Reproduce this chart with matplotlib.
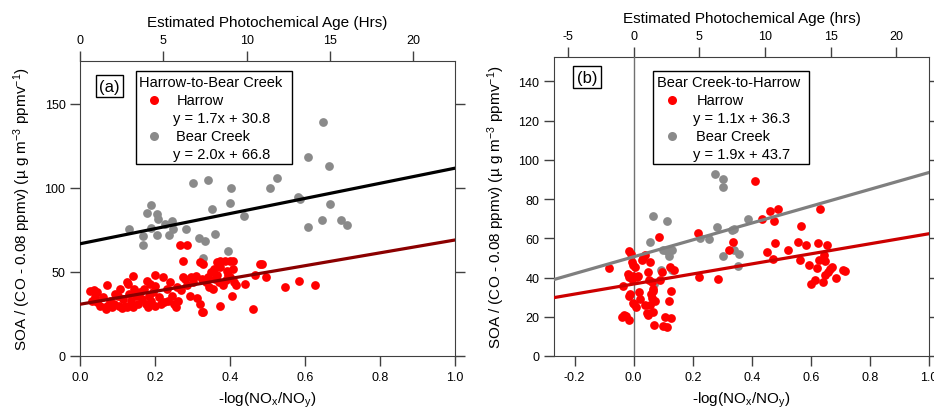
import numpy as np
import matplotlib.pyplot as plt
from matplotlib.patches import Rectangle

plt.rcParams['font.family'] = ['Liberation Sans', 'DejaVu Sans']
plt.rcParams['mathtext.default'] = 'regular'
plt.rcParams['axes.unicode_minus'] = False

HRS_PER_UNIT = 22.5

# panel (a) Harrow-to-Bear Creek
a_harrow_x = [0.027, 0.036, 0.044, 0.031, 0.044, 0.053, 0.071, 0.069, 0.071, 0.06, 0.08, 0.09, 0.1, 0.093, 0.085, 0.04,
              0.107, 0.115, 0.12, 0.124, 0.129, 0.13, 0.135, 0.142, 0.14, 0.15, 0.155, 0.16, 0.165, 0.17, 0.175, 0.178,
              0.18, 0.185, 0.187, 0.19, 0.195, 0.2, 0.2, 0.2, 0.105, 0.112, 0.125, 0.145,
              0.21, 0.215, 0.222, 0.225, 0.231, 0.235, 0.24, 0.245, 0.25, 0.258, 0.262, 0.267, 0.284, 0.274, 0.275,
              0.28, 0.292, 0.295, 0.3, 0.27, 0.285, 0.255,
              0.311, 0.32, 0.324, 0.329, 0.32, 0.329, 0.31, 0.325, 0.335, 0.34, 0.345, 0.35, 0.356, 0.364, 0.373,
              0.387, 0.4, 0.409, 0.373, 0.391, 0.409, 0.36, 0.37, 0.38, 0.39, 0.4, 0.41, 0.415, 0.404, 0.373, 0.355,
              0.365, 0.395,
              0.44, 0.467, 0.48, 0.486, 0.496, 0.46, 0.547, 0.585, 0.627]
a_harrow_y = [38.8, 39.5, 37.8, 33, 32, 30, 30, 27.9, 42.2, 35, 33, 31, 36, 37, 29, 35,
              39.8, 34, 30, 43.8, 42.8, 37, 33, 47.8, 29, 36, 31, 38, 34, 40, 31, 44.8,
              29, 36, 42.8, 33, 38, 41.8, 48.2, 30, 30, 28.5, 29, 40,
              35, 31, 46.8, 32, 39.8, 33, 43.8, 36, 31, 40.8, 33, 66.3, 66.3, 56.4, 47,
              46, 35.9, 47, 44, 39, 42, 29,
              34.5, 30.9, 26.3, 26.3, 55.8, 54.8, 47.5, 46, 44, 47, 41, 50, 51.8, 55.8, 56.8,
              56.8, 56.4, 56.4, 52.8, 50.8, 51.8, 46, 44, 42, 45, 47, 44, 42, 35.9, 29.9, 40,
              48, 48,
              43, 48.2, 54.8, 54.8, 47, 27.9, 40.8, 44.8, 42.2]
a_bear_x = [0.188, 0.178, 0.204, 0.209, 0.131, 0.188, 0.169, 0.204, 0.167, 0.227, 0.244, 0.247, 0.238, 0.282,
            0.318, 0.333, 0.361, 0.394, 0.327, 0.352, 0.4, 0.438, 0.587, 0.608, 0.644, 0.667, 0.695, 0.711,
            0.649, 0.609, 0.663, 0.524, 0.507, 0.34, 0.301, 0.402, 0.582]
a_bear_y = [89.6, 85.3, 84.3, 81.3, 75.3, 76.1, 71.7, 72.1, 66.3, 78.7, 80.1, 75.3, 72.1, 75.3,
            70.1, 68.7, 72.7, 62.2, 58.4, 87.6, 91.0, 83.3, 93.6, 76.5, 80.9, 90.2, 80.9, 77.7,
            139.3, 118.5, 112.9, 106.2, 100, 105, 103.2, 100.2, 94.4]

# panel (b) Bear Creek-to-Harrow
b_harrow_x = [-0.082, -0.037, -0.033, -0.026, -0.017, -0.041, -0.015, -0.01, -0.018, -0.015, -0.007, -0.001,
              -0.012, -0.015, -0.006, -0.001, 0.005, -0.003, 0.007, 0.002, 0.01, 0.016, 0.021, 0.019, 0.027,
              0.033, 0.038, 0.055, 0.047, 0.053, 0.061, 0.039, 0.044, 0.05, 0.055, 0.058, 0.064, 0.066, 0.067,
              0.073, 0.069, 0.061, 0.086, 0.089, 0.095, 0.106, 0.112, 0.098, 0.123, 0.137, 0.125, 0.12, 0.128,
              0.219, 0.222, 0.287, 0.324, 0.336, 0.412, 0.434, 0.451, 0.462, 0.49, 0.476, 0.477, 0.471, 0.524,
              0.558, 0.566, 0.563, 0.583, 0.593, 0.6, 0.615, 0.623, 0.632, 0.62, 0.629, 0.643, 0.654, 0.641,
              0.647, 0.649, 0.657, 0.666, 0.671, 0.686, 0.708, 0.716]
b_harrow_y = [44.8, 35.6, 21, 20.3, 18.4, 19.8, 53.3, 52.1, 41.9, 40.2, 39.4, 41, 31.7, 30.8, 47.9, 46.2,
              45.3, 27, 24.9, 26.6, 40.2, 40.7, 29.1, 32.5, 48.7, 49.9, 51.3, 47.9, 42.7, 38.5, 37.6, 25.9,
              21.7, 20.8, 26.2, 31.5, 33.2, 34, 22.5, 28.1, 16, 29.5, 60.6, 38.5, 42.8, 19.8, 14.8, 15.3,
              45.3, 43.6, 33.2, 28.1, 19.5,
              62.8, 40.2, 39.3, 53.8, 58.3, 89.2, 69.9, 53.2, 74.2, 75, 68.6, 57.7, 49.5, 54.3,
              58.1, 66.3, 49.2, 56.4, 46.5, 36.8, 39, 57.8, 75.1, 44.8, 48.7, 51.6, 56.7, 37.6,
              48.2, 41.4, 42.8, 44.5, 45.3, 39.7, 44.1, 43.3]
b_bear_x = [0.276, 0.304, 0.302, 0.064, 0.114, 0.055, 0.098, 0.112, 0.129, 0.121, 0.092, 0.129, 0.07,
            0.225, 0.256, 0.281, 0.332, 0.34, 0.34, 0.355, 0.302, 0.352, 0.388]
b_bear_y = [92.7, 90.5, 86.3, 71.4, 68.7, 58.1, 53.8, 53.3, 54.3, 50.9, 43.6, 43.6, 36.8,
            60.2, 59.7, 65.7, 64.0, 64.8, 53.8, 52.0, 51.2, 46.1, 69.9]

# fit lines as drawn (slope per hour, intercept)
a_fit_harrow = (1.7, 30.8)
a_fit_bear = (2.0, 66.8)
b_fit_harrow = (1.14, 36.7)
b_fit_bear = (1.91, 50.6)

RED = '#ff0000'
GRAY = '#8a8a8a'
AXC = '#404040'

fig = plt.figure(figsize=(9.34, 4.10), dpi=100)
ax1 = fig.add_axes([0.0857, 0.1293, 0.4015, 0.7195])
ax2 = fig.add_axes([0.5931, 0.1293, 0.4015, 0.7293])


def style(ax, xlim, ylim, yticks, hticks, toplabel):
    ax.set_xlim(*xlim)
    ax.set_ylim(*ylim)
    ax.set_yticks(yticks)
    ax.set_xticks([-0.2, 0.0, 0.2, 0.4, 0.6, 0.8, 1.0] if xlim[0] < -0.2 else [0.0, 0.2, 0.4, 0.6, 0.8, 1.0])
    ax.set_xticklabels([f'{v:.1f}' for v in ax.get_xticks()])
    ax.tick_params(direction='out', length=7, width=1, color=AXC, labelsize=9, right=True)
    for s in ax.spines.values():
        s.set_color(AXC)
    ax.spines['top'].set_visible(False)
    ax.set_xlabel('-log(NO$_x$/NO$_y$)', fontsize=11, labelpad=5)
    ax.set_ylabel('SOA / (CO - 0.08 ppmv) (µ g m$^{-3}$ ppmv$^{-1}$)', fontsize=11, labelpad=8)
    sec = ax.secondary_xaxis('top', functions=(lambda x: x * HRS_PER_UNIT, lambda h: h / HRS_PER_UNIT))
    sec.set_xticks(hticks)
    sec.tick_params(direction='out', length=7, width=1, color=AXC, labelsize=9)
    sec.spines['top'].set_color(AXC)
    sec.set_xlabel(toplabel, fontsize=11, labelpad=6)


def legend(ax, box, title, tx, mx, ys, labels):
    ax.add_patch(Rectangle((box[0], box[1]), box[2] - box[0], box[3] - box[1], transform=ax.transAxes,
                           facecolor='white', edgecolor='black', lw=1, zorder=5))
    ax.text(box[0] + 0.01, ys[0], title, transform=ax.transAxes, fontsize=10.5, va='center', ha='left', zorder=6)
    for (lab, eq, col), y1, y2 in zip(labels, ys[1::2], ys[2::2]):
        ax.plot([mx], [y1], 'o', color=col, ms=6.5, mec='none', transform=ax.transAxes, zorder=6)
        ax.text(tx + 0.01, y1, lab, transform=ax.transAxes, fontsize=10.5, va='center', ha='left', zorder=6)
        ax.text(tx, y2, eq, transform=ax.transAxes, fontsize=10.5, va='center', ha='left', zorder=6)


# panel (a)
style(ax1, (0, 1.0), (0, 175.6), [0, 50, 100, 150], [0, 5, 10, 15, 20], 'Estimated Photochemical Age (Hrs)')
ax1.plot(a_bear_x, a_bear_y, 'o', color=GRAY, ms=6.3, mec='none', zorder=2)
ax1.plot(a_harrow_x, a_harrow_y, 'o', color=RED, ms=6.3, mec='none', zorder=2)
xx = np.array([0.0, 1.0])
ax1.plot(xx, a_fit_bear[1] + a_fit_bear[0] * HRS_PER_UNIT * xx, color='black', lw=2.3, zorder=3)
ax1.plot(xx, a_fit_harrow[1] + a_fit_harrow[0] * HRS_PER_UNIT * xx, color='#8b0000', lw=2.3, zorder=3)
ax1.text(0.079, 0.915, '(a)', transform=ax1.transAxes, fontsize=12, ha='center', va='center',
         bbox=dict(boxstyle='square,pad=0.2', fc='white', ec='black', lw=1))
legend(ax1, (0.148, 0.651, 0.565, 0.965), 'Harrow-to-Bear Creek', 0.247, 0.197,
       [0.929, 0.868, 0.807, 0.747, 0.685],
       [('Harrow', 'y = 1.7x + 30.8', RED), ('Bear Creek', 'y = 2.0x + 66.8', GRAY)])

# panel (b)
style(ax2, (-0.27, 1.0), (0, 152.5), list(range(0, 141, 20)), [-5, 0, 5, 10, 15, 20],
      'Estimated Photochemical Age (hrs)')
ax2.axvline(0, color='#707070', lw=1, zorder=1)
ax2.plot(b_bear_x, b_bear_y, 'o', color=GRAY, ms=6.3, mec='none', zorder=2)
ax2.plot(b_harrow_x, b_harrow_y, 'o', color=RED, ms=6.3, mec='none', zorder=2)
xx = np.array([-0.27, 1.0])
ax2.plot(xx, b_fit_bear[1] + b_fit_bear[0] * HRS_PER_UNIT * xx, color='#7f7f7f', lw=2.3, zorder=3)
ax2.plot(xx, b_fit_harrow[1] + b_fit_harrow[0] * HRS_PER_UNIT * xx, color='#cc0000', lw=2.3, zorder=3)
ax2.text(0.088, 0.932, '(b)', transform=ax2.transAxes, fontsize=12, ha='center', va='center',
         bbox=dict(boxstyle='square,pad=0.2', fc='white', ec='black', lw=1))
legend(ax2, (0.265, 0.642, 0.681, 0.952), 'Bear Creek-to-Harrow', 0.37, 0.314,
       [0.916, 0.856, 0.796, 0.737, 0.676],
       [('Harrow', 'y = 1.1x + 36.3', RED), ('Bear Creek', 'y = 1.9x + 43.7', GRAY)])

fig.savefig('out.png', dpi=100)
